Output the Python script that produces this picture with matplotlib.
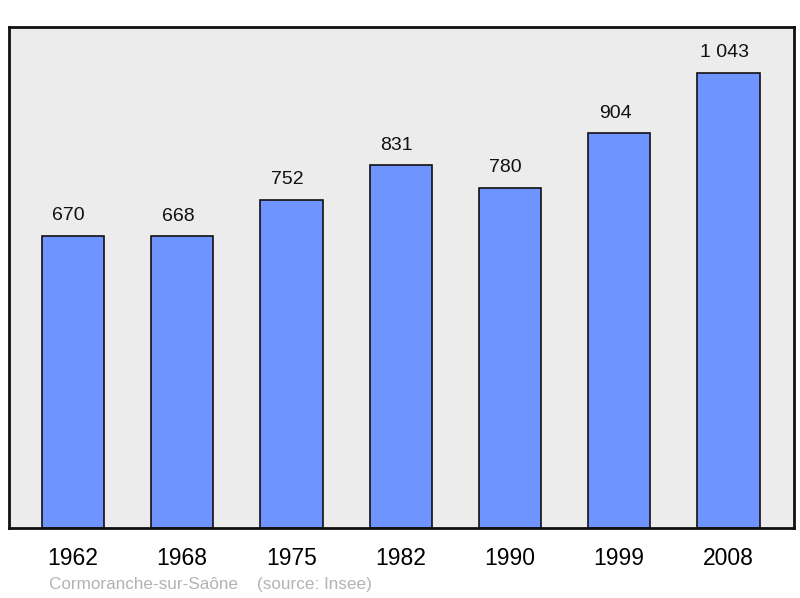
import matplotlib
matplotlib.use("Agg")
import matplotlib.pyplot as plt

years = ["1962", "1968", "1975", "1982", "1990", "1999", "2008"]
population = [670, 668, 752, 831, 780, 904, 1043]
value_labels = ["670", "668", "752", "831", "780", "904", "1 043"]

plt.rcParams['font.family'] = ['Liberation Sans', 'DejaVu Sans']

fig = plt.figure(figsize=(8, 5.98), dpi=100)
W, H = 800, 598
ax = fig.add_axes([9 / W, 1 - 528 / H, (794 - 9) / W, (528 - 27) / H])
ax.set_facecolor('#ececec')

x = list(range(len(years)))
ax.bar(x, population, width=0.57, color='#7094ff', edgecolor='#111111', linewidth=1.2, zorder=2)
for xi, v, lab in zip(x, population, value_labels):
    ax.annotate(lab, (xi, v), xytext=(-3, 14.4), textcoords='offset points',
                ha='center', va='center', fontsize=14, color='#111111')

ax.set_xlim(-0.585, 6.6)
ax.set_ylim(0, 1148)
ax.set_xticks(x)
ax.set_xticklabels(years, fontsize=16.5)
ax.tick_params(axis='x', length=0, pad=13.5)
ax.set_yticks([])
for s in ax.spines.values():
    s.set_linewidth(2)
    s.set_color('#111111')

fig.text(49 / W, 1 - 584 / H, "Cormoranche-sur-Saône    (source: Insee)", fontsize=12.3,
         color='#b3b3b3', ha='left', va='center')

fig.savefig("out.png", dpi=100)
